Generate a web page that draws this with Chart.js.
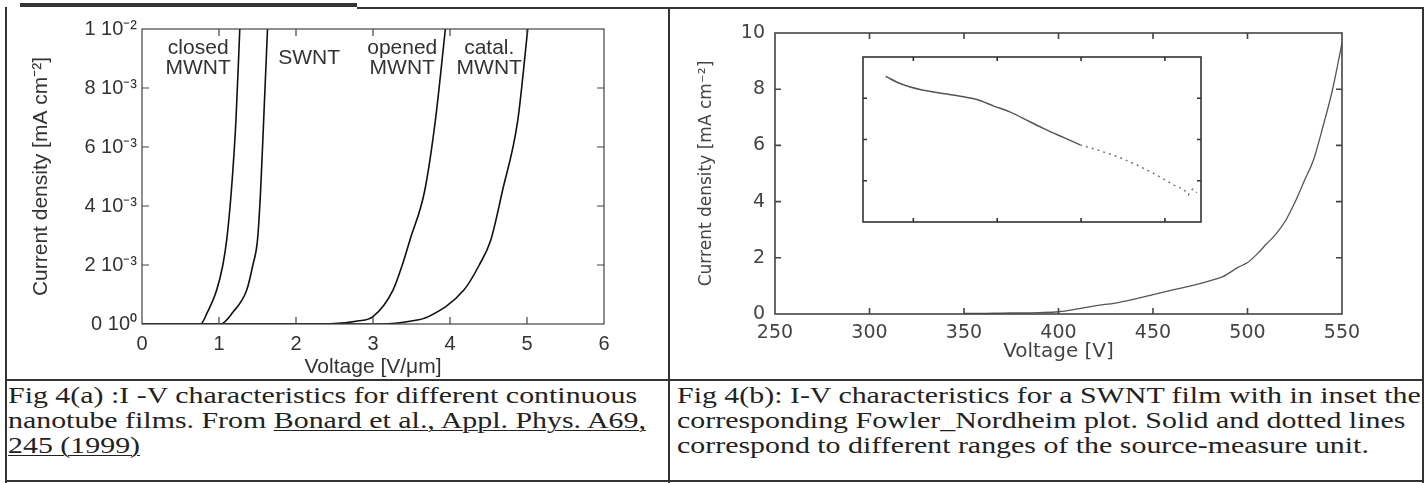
<!DOCTYPE html>
<html>
<head>
<meta charset="utf-8">
<script src="https://cdn.jsdelivr.net/npm/chart.js@4.4.1/dist/chart.umd.min.js"></script>
<style>
body { margin:0; background:#fff; width:1426px; height:483px; overflow:hidden; position:relative; }
canvas { position:absolute; }
.rule { position:absolute; background:#333; }
.cap { position:absolute; font-family:"Liberation Serif", "Times New Roman", serif; font-size:23px; line-height:25px; color:#222; white-space:nowrap; transform:scaleX(1.3); transform-origin:0 0; }
.cap u { text-decoration-thickness:1px; text-underline-offset:2px; }
</style>
</head>
<body>
<div class="rule" style="left:20px;top:3px;width:337px;height:4px"></div>
<div class="rule" style="left:357px;top:7px;width:1067px;height:2px"></div>
<div class="rule" style="left:5px;top:7px;width:2px;height:476px"></div>
<div class="rule" style="left:668px;top:8px;width:2px;height:475px"></div>
<div class="rule" style="left:1422px;top:8px;width:2px;height:475px"></div>
<div class="rule" style="left:5px;top:379px;width:1419px;height:2px"></div>
<div class="rule" style="left:5px;top:480px;width:1419px;height:2px"></div>

<canvas id="left" width="668" height="378" style="left:0;top:0"></canvas>
<canvas id="right" width="753" height="378" style="left:670px;top:0"></canvas>
<canvas id="inset" width="342" height="169" style="left:861px;top:55px"></canvas>

<div class="cap" style="left:8px;top:383px">Fig 4(a) :I -V characteristics for different continuous<br>nanotube films. From <u>Bonard et al., Appl. Phys. A69,</u><br><u>245 (1999)</u></div>
<div class="cap" style="left:677px;top:383px">Fig 4(b): I-V characteristics for a SWNT film with in inset the<br>corresponding Fowler_Nordheim plot. Solid and dotted lines<br>correspond to different ranges of the source-measure unit.</div>

<script>
// Fig 4(a): current density vs field for four films
var closedV = [0, 0.76, 0.85, 0.97, 1.05, 1.10, 1.16, 1.22, 1.27];
var closedJ = [0, 0, 0.0004, 0.00115, 0.002, 0.00285, 0.0045, 0.0069, 0.01];
var swntV = [0, 1.02, 1.18, 1.36, 1.44, 1.50, 1.54, 1.58, 1.63];
var swntJ = [0, 0, 0.0004, 0.00115, 0.002, 0.00285, 0.0045, 0.0069, 0.01];
var openedV = [0, 2.4, 2.8, 3.0, 3.26, 3.38, 3.48, 3.67, 3.81, 3.94];
var openedJ = [0, 0, 0.0001, 0.00025, 0.00115, 0.002, 0.00285, 0.0045, 0.0069, 0.01];
var catalV = [0, 3.1, 3.5, 3.72, 4.18, 4.38, 4.53, 4.68, 4.88, 5.01];
var catalJ = [0, 0, 0.0001, 0.00025, 0.00115, 0.002, 0.00285, 0.0045, 0.0069, 0.01];

var nameLines = [['closed', 'MWNT'], ['SWNT'], ['opened', 'MWNT'], ['catal.', 'MWNT']];
var nameV = [0.73, 2.17, 3.38, 4.51];
var nameJ = [0.00902, 0.00902, 0.00902, 0.00902];

var leftXTicks = [0, 1, 2, 3, 4, 5, 6];
var leftYTicks = [0, 0.002, 0.004, 0.006, 0.008, 0.01];
var leftYTickLabels = ['0 10\u2070', '2 10\u207B\u00B3', '4 10\u207B\u00B3', '6 10\u207B\u00B3', '8 10\u207B\u00B3', '1 10\u207B\u00B2'];

// Fig 4(b): SWNT film I-V
var rightV = [350, 360, 370, 380, 390, 400, 410, 420, 430, 440, 450, 460, 470, 480, 487, 495, 500, 505, 510, 515, 520, 525, 530, 535, 540, 545, 550];
var rightJ = [0.02, 0.02, 0.03, 0.04, 0.05, 0.08, 0.18, 0.30, 0.39, 0.53, 0.69, 0.85, 1.0, 1.18, 1.33, 1.66, 1.83, 2.13, 2.49, 2.84, 3.31, 3.96, 4.73, 5.5, 6.69, 7.99, 9.64];
var rightXTicks = [250, 300, 350, 400, 450, 500, 550];
var rightYTicks = [0, 2, 4, 6, 8, 10];

// inset (Fowler-Nordheim plot, no labels)
var fnSolidX = [0.67, 0.85, 1.08, 1.28, 1.56, 1.76, 1.96, 2.15, 2.39, 2.55, 2.79, 2.99];
var fnSolidY = [3.53, 3.35, 3.21, 3.14, 3.05, 2.97, 2.81, 2.67, 2.43, 2.27, 2.05, 1.87];
var fnDotX = [2.99, 3.19, 3.43, 3.66, 3.90, 4.14, 4.22, 4.28, 4.33, 4.38];
var fnDotY = [1.87, 1.75, 1.59, 1.39, 1.14, 0.86, 0.80, 0.66, 0.80, 0.71];
var insetXTicks = [1, 2, 3, 4];
var insetYTicks = [1, 2, 3];

function pts(xs, ys) {
    var out = [];
    for (var i = 0; i < xs.length; i++) out.push({x: xs[i], y: ys[i]});
    return out;
}
function fixTicks(list) {
    return function(scale) { scale.ticks = list.map(function(v) { return {value: v}; }); };
}

// box round the plot with ticks pointing inwards
var frameTicks = {
    id: 'frameTicks',
    afterDatasetsDraw: function(chart, args, opts) {
        var a = chart.chartArea, ctx = chart.ctx;
        var xs = chart.scales.x, ys = chart.scales.y;
        ctx.save();
        ctx.strokeStyle = opts.color;
        ctx.lineWidth = opts.width;
        ctx.strokeRect(a.left, a.top, a.right - a.left, a.bottom - a.top);
        ctx.beginPath();
        xs.ticks.forEach(function(t) {
            var px = xs.getPixelForValue(t.value);
            if (px <= a.left + 2 || px >= a.right - 2) return;
            ctx.moveTo(px, a.bottom); ctx.lineTo(px, a.bottom - opts.len);
            ctx.moveTo(px, a.top); ctx.lineTo(px, a.top + opts.len);
        });
        ys.ticks.forEach(function(t) {
            var py = ys.getPixelForValue(t.value);
            if (py <= a.top + 2 || py >= a.bottom - 2) return;
            ctx.moveTo(a.left, py); ctx.lineTo(a.left + opts.len, py);
            ctx.moveTo(a.right, py); ctx.lineTo(a.right - opts.len, py);
        });
        ctx.stroke();
        ctx.restore();
    }
};

var curveLabels = {
    id: 'curveLabels',
    afterDatasetsDraw: function(chart) {
        var ctx = chart.ctx, xs = chart.scales.x, ys = chart.scales.y;
        ctx.save();
        ctx.font = '21px "Liberation Sans", Arial, sans-serif';
        ctx.fillStyle = '#333';
        ctx.textAlign = 'center';
        ctx.textBaseline = 'middle';
        nameLines.forEach(function(lines, i) {
            var px = xs.getPixelForValue(nameV[i]);
            var py = ys.getPixelForValue(nameJ[i]);
            lines.forEach(function(s, k) {
                ctx.fillText(s, px, py + (k - (lines.length - 1) / 2) * 20);
            });
        });
        ctx.restore();
    }
};

function curve(xs, ys, color, w) {
    return {
        data: pts(xs, ys), showLine: true, borderColor: color, borderWidth: w,
        pointRadius: 0, cubicInterpolationMode: 'monotone', fill: false
    };
}

var sans = '"Liberation Sans", Arial, sans-serif';

new Chart(document.getElementById('left').getContext('2d'), {
    type: 'scatter',
    data: {
        datasets: [
            curve(closedV, closedJ, '#111', 1.6),
            curve(swntV, swntJ, '#111', 1.6),
            curve(openedV, openedJ, '#111', 1.6),
            curve(catalV, catalJ, '#111', 1.6)
        ]
    },
    options: {
        responsive: false, animation: false,
        layout: {padding: {top: 29, right: 64, left: 0, bottom: 0}},
        plugins: {legend: {display: false}, tooltip: {enabled: false}, frameTicks: {color: '#444', width: 1.2, len: 7}},
        scales: {
            x: {
                type: 'linear', min: 0, max: 6,
                afterBuildTicks: fixTicks(leftXTicks),
                afterFit: function(s) { s.height = 54; },
                grid: {display: false, drawTicks: false}, border: {display: false},
                ticks: {padding: 8, color: '#333', font: {family: sans, size: 20}, maxRotation: 0},
                title: {display: true, text: 'Voltage [V/\u03BCm]', color: '#333', font: {family: sans, size: 21, lineHeight: 1}, padding: {top: 0, bottom: 0}}
            },
            y: {
                type: 'linear', min: 0, max: 0.01,
                afterBuildTicks: fixTicks(leftYTicks),
                afterFit: function(s) { s.width = 142; },
                grid: {display: false, drawTicks: false}, border: {display: false},
                ticks: {padding: 5, color: '#333', font: {family: sans, size: 20},
                    callback: function(v, i) { return leftYTickLabels[i]; }},
                title: {display: true, text: 'Current density [mA cm\u207B\u00B2]', color: '#333', font: {family: sans, size: 21}, padding: {top: 29, bottom: 0}}
            }
        }
    },
    plugins: [frameTicks, curveLabels]
});

var wide = '"DejaVu Sans", Verdana, sans-serif';

new Chart(document.getElementById('right').getContext('2d'), {
    type: 'scatter',
    data: {datasets: [curve(rightV, rightJ, '#555', 1.3)]},
    options: {
        responsive: false, animation: false,
        layout: {padding: {top: 33, right: 81, left: 0, bottom: 0}},
        plugins: {legend: {display: false}, tooltip: {enabled: false}, frameTicks: {color: '#444', width: 1.6, len: 6}},
        scales: {
            x: {
                type: 'linear', min: 250, max: 550,
                afterBuildTicks: fixTicks(rightXTicks),
                afterFit: function(s) { s.height = 64; },
                grid: {display: false, drawTicks: false}, border: {display: false},
                ticks: {padding: 8, color: '#444', font: {family: wide, size: 19}, maxRotation: 0},
                title: {display: true, text: 'Voltage [V]', color: '#444', font: {family: wide, size: 20}, padding: {top: 0, bottom: 14}}
            },
            y: {
                type: 'linear', min: 0, max: 10,
                afterBuildTicks: fixTicks(rightYTicks),
                afterFit: function(s) { s.width = 105; },
                grid: {display: false, drawTicks: false}, border: {display: false},
                ticks: {padding: 10, color: '#444', font: {family: wide, size: 19}},
                title: {display: true, text: 'Current density [mA cm\u207B\u00B2]', color: '#444', font: {family: wide, size: 17}, padding: {top: 26, bottom: 0}}
            }
        }
    },
    plugins: [frameTicks]
});

var dotted = curve(fnDotX, fnDotY, '#777', 1.5);
dotted.borderDash = [2, 4];
dotted.cubicInterpolationMode = 'default';

new Chart(document.getElementById('inset').getContext('2d'), {
    type: 'scatter',
    data: {datasets: [curve(fnSolidX, fnSolidY, '#555', 1.5), dotted]},
    options: {
        responsive: false, animation: false,
        layout: {padding: 2},
        plugins: {legend: {display: false}, tooltip: {enabled: false}, frameTicks: {color: '#333', width: 1.6, len: 4}},
        scales: {
            x: {type: 'linear', display: false, min: 0.4, max: 4.43, afterBuildTicks: fixTicks(insetXTicks)},
            y: {type: 'linear', display: false, min: 0, max: 4, afterBuildTicks: fixTicks(insetYTicks)}
        }
    },
    plugins: [frameTicks]
});
</script>
</body>
</html>
